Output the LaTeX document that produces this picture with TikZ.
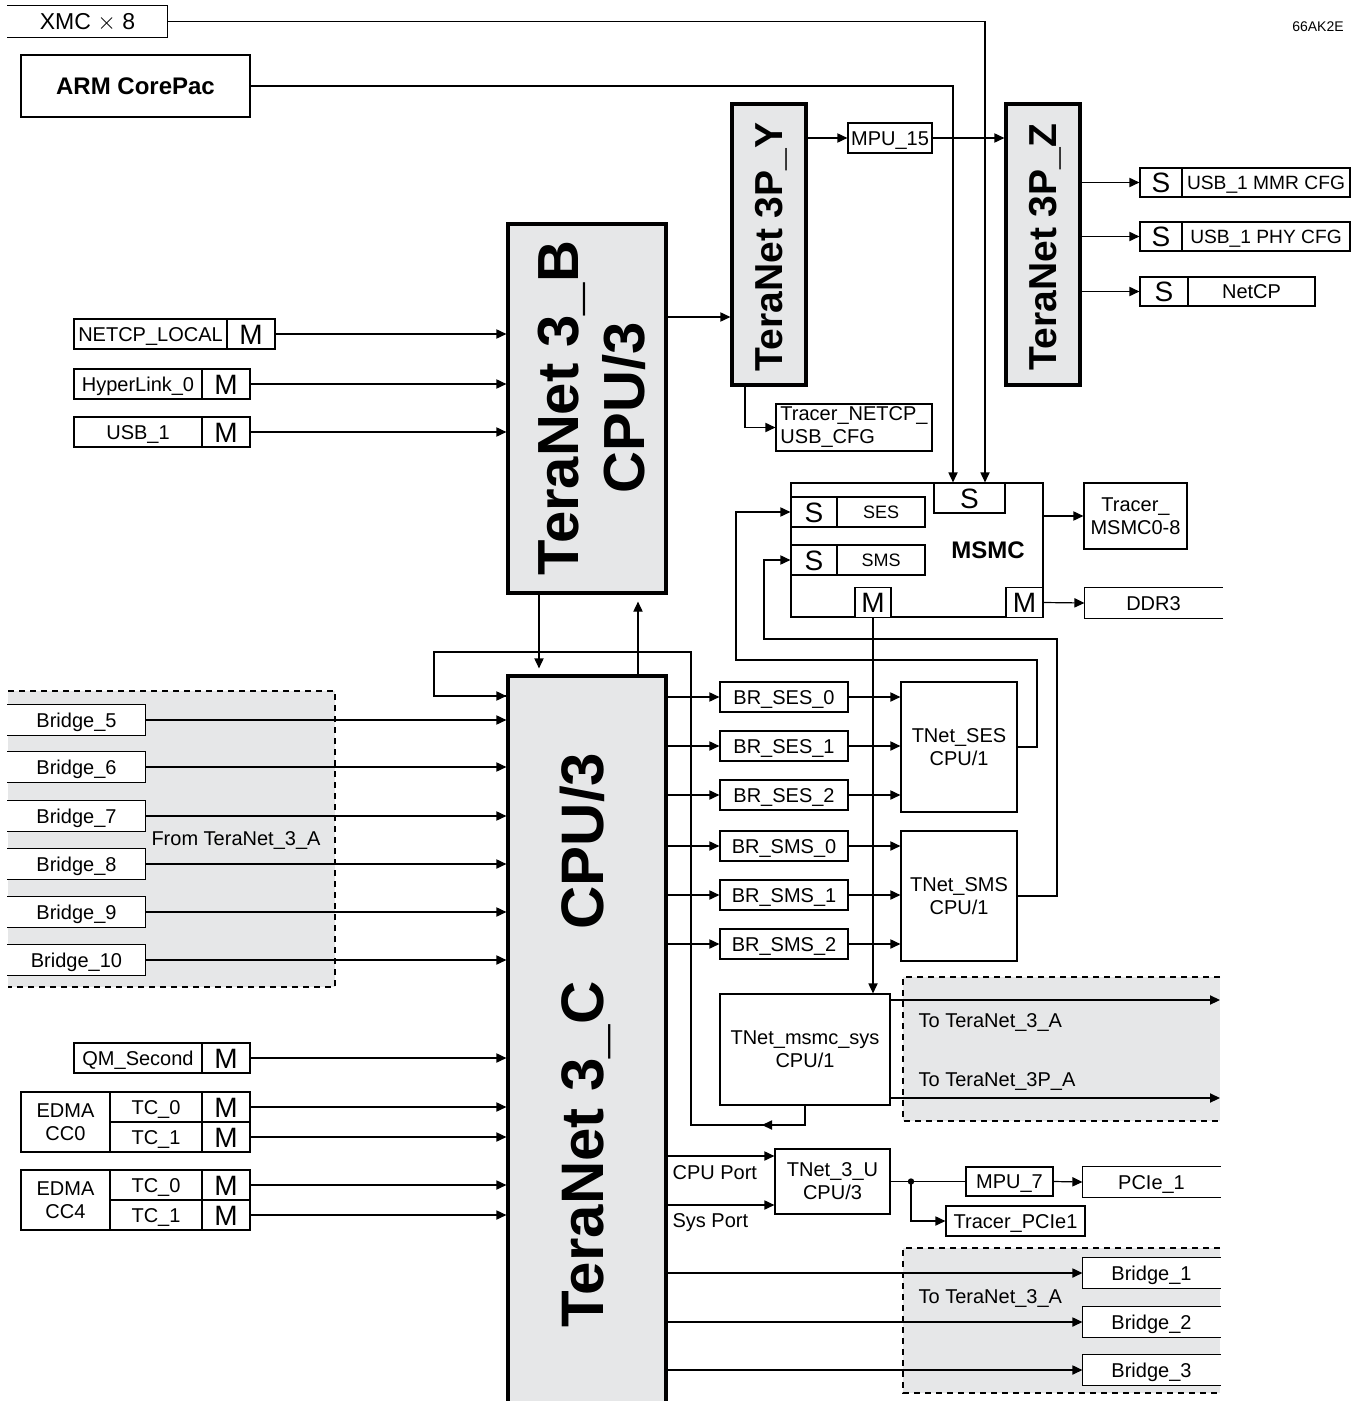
\documentclass[tikz,border=0pt]{standalone}
\usepackage{fontspec}
\setmainfont{Liberation Sans}
\usetikzlibrary{arrows.meta,positioning}
\definecolor{tngray}{RGB}{230,231,232}
\tikzstyle{arrow} = [-{Triangle[length=5pt,width=4.6pt]}]
\tikzstyle{box2} = [rectangle, draw, fill=white, inner sep=0pt, minimum height=15pt, font=\fontsize{10}{11.5}\selectfont]
\tikzstyle{box} = [box2, text height=7.2pt, text depth=0pt]
\tikzstyle{port} = [box, minimum width=24pt, text height=10pt, font=\fontsize{14}{14}\selectfont]
\tikzstyle{fabric} = [rectangle, draw, line width=1.6pt, fill=tngray]
\tikzstyle{fabrictext} = [rotate=90, align=center, inner sep=0pt, font=\bfseries\fontsize{29}{33}\selectfont]
\tikzstyle{regionedge} = [dash pattern=on 3pt off 2.5pt]
\tikzstyle{note} = [inner sep=0pt, font=\fontsize{10}{11.5}\selectfont]

\begin{document}
\begin{tikzpicture}[x=0.5pt, y=-0.5pt, line width=0.6pt]
\useasboundingbox (0,0) rectangle (1364,1401);

% shaded groups
\fill[tngray] (8,691) rectangle (335,987);
\draw[regionedge] (8,691) -- (335,691) -- (335,987) -- (8,987);
\fill[tngray] (903,977) rectangle (1220,1121);
\draw[regionedge] (1220,977) -- (903,977) -- (903,1121) -- (1220,1121);
\fill[tngray] (903,1248) rectangle (1220,1393);
\draw[regionedge] (1220,1248) -- (903,1248) -- (903,1393) -- (1220,1393);

% top masters
\node[box, draw=none, fill=none, minimum width=79.5pt, minimum height=15.5pt, font=\fontsize{11.5}{13}\selectfont, text height=8.3pt] (xmc) at (87.5,21.5) {XMC $\times$ 8};
\draw (xmc.north west) -- (xmc.north east) -- (xmc.south east) -- (xmc.south west);
\node[box, minimum width=114.5pt, minimum height=31pt, text height=8.6pt, font=\bfseries\fontsize{12}{14}\selectfont] (arm) at (135.5,86) {ARM CorePac};
\node[font=\fontsize{7}{8}\selectfont] (tag) at (1318,27) {66AK2E};

% switch fabrics
\node[fabric, minimum width=79pt, minimum height=184.5pt] (tnb) at (587,408.5) {};
\node[fabrictext] (tnbtext) at (592,408) {TeraNet 3\_B\\CPU/3};
\node[fabric, minimum width=37pt, minimum height=140.5pt] (tny) at (769,244.5) {};
\node[fabrictext, font=\bfseries\fontsize{19.5}{22}\selectfont] (tnytext) at (771,247) {TeraNet 3P\_Y};
\node[fabric, minimum width=37pt, minimum height=140.5pt] (tnz) at (1043,244.5) {};
\node[fabrictext, font=\bfseries\fontsize{19.5}{22}\selectfont] (tnztext) at (1045,247) {TeraNet 3P\_Z};
\node[fabric, minimum width=79pt, minimum height=367pt] (tnc) at (587,1043) {};
\node[fabrictext, font=\bfseries\fontsize{30}{33}\selectfont] (tnctext) at (585,1040) {TeraNet 3\_C\hspace{26pt}CPU/3};

% TeraNet 3P_Y / 3P_Z
\node[box, minimum width=42pt] (mpu15) at (890,138) {MPU\_15};
\node[box2, minimum width=78pt, minimum height=23.5pt, align=left] (trnetcp) at (854,427.5) {Tracer\_NETCP\_\\USB\_CFG};
\draw[arrow] (tnb.east |- 0,317) -- (tny.west |- 0,317);
\draw[arrow] (tny.east |- mpu15.west) -- (mpu15.west);
\draw[arrow] (mpu15.east) -- (mpu15.east -| tnz.west);
\draw[arrow] ([xshift=-12pt]tny.south) |- (trnetcp.west);

\node[port, minimum width=21pt, minimum height=14.5pt] (mmrS) at (1161,182.5) {S};
\node[box, minimum width=84pt, minimum height=14.5pt, font=\fontsize{9.6}{11}\selectfont] (mmr) at (1266,182.5) {USB\_1 MMR CFG};
\node[port, minimum width=21pt, minimum height=14.5pt] (phyS) at (1161,236.5) {S};
\node[box, minimum width=84pt, minimum height=14.5pt, font=\fontsize{9.6}{11}\selectfont] (phy) at (1266,236.5) {USB\_1 PHY CFG};
\node[port, minimum width=24pt, minimum height=14.5pt] (netcpS) at (1164,291.5) {S};
\node[box, minimum width=63.5pt, minimum height=14.5pt] (netcp) at (1251.5,291.5) {NetCP};
\foreach \s in {mmrS, phyS, netcpS}
  \draw[arrow] (tnz.east |- \s.west) -- (\s.west);

% MSMC
\node[box2, minimum width=126pt, minimum height=67pt] (msmc) at (917,550) {};
\node[font=\bfseries\fontsize{12}{14}\selectfont, text height=8.6pt, text depth=0pt] (msmctext) at (988,550) {MSMC};
\node[port, minimum width=35.5pt] (stop) at (969.5,498) {S};
\node[port, minimum width=23pt] (sesS) at (814,512) {S};
\node[box, minimum width=44pt, text height=6.5pt, font=\fontsize{9}{10}\selectfont] (ses) at (881,512) {SES};
\node[port, minimum width=23pt] (smsS) at (814,560) {S};
\node[box, minimum width=44pt, text height=6.5pt, font=\fontsize{9}{10}\selectfont] (sms) at (881,560) {SMS};
\node[port, minimum width=18pt] (mbot) at (873,602.5) {M};
\node[port, minimum width=18.5pt] (mright) at (1024.5,602.5) {M};
\node[box2, minimum width=51.5pt, minimum height=33pt, align=center] (trmsmc) at (1135.5,516) {Tracer\_\\MSMC0-8};
\node[box, draw=none, minimum width=68.5pt] (ddr) at (1153.5,603) {DDR3};
\draw (ddr.north east) -- (ddr.north west) -- (ddr.south west) -- (ddr.south east);
\draw[arrow] (xmc.east) -| ([xshift=7.75pt]stop.north);
\draw[arrow] (arm.east) -| ([xshift=-8.25pt]stop.north);
\draw[arrow] (msmc.east |- trmsmc.west) -- (trmsmc.west);
\draw[arrow] (mright.east) -- (ddr.west);

% masters into TeraNet 3_B
\node[box, minimum width=76.5pt] (netlocal) at (150.5,334) {NETCP\_LOCAL};
\node[port] (netlocalM) at (251,334) {M};
\draw[arrow] (netlocalM.east) -- (netlocalM.east -| tnb.west);
\foreach \name/\txt/\y in {hyper/HyperLink\_0/384, usb/USB\_1/432, qm/QM\_Second/1058} {
  \node[box, minimum width=64pt] (\name) at (138,\y) {\txt};
  \node[port] (\name M) at (226,\y) {M};
}
\draw[arrow] (hyperM.east) -- (hyperM.east -| tnb.west);
\draw[arrow] (usbM.east) -- (usbM.east -| tnb.west);
\draw[arrow] (qmM.east) -- (qmM.east -| tnc.west);

% TeraNet 3_B <-> TeraNet 3_C
\draw[arrow] ([xshift=-24pt]tnb.south) -- ([xshift=-24pt,yshift=3pt]tnc.north);
\draw[arrow] ([xshift=25.5pt]tnc.north) -- ([xshift=25.5pt,yshift=-3.5pt]tnb.south);

% bridges from TeraNet_3_A
\foreach \n/\y in {5/720, 6/767, 7/816, 8/864, 9/912, 10/960} {
  \node[box, draw=none, minimum width=68.5pt] (bridge\n) at (76.5,\y) {Bridge\_\n};
  \draw (bridge\n.north west) -- (bridge\n.north east) -- (bridge\n.south east) -- (bridge\n.south west);
  \draw[arrow] (bridge\n.east) -- (bridge\n.east -| tnc.west);
}
\node[note] (fromA) at (236,840) {From TeraNet\_3\_A};

% EDMA
\foreach \cc/\y in {0/1122, 4/1200} {
  \node[box2, minimum width=44.5pt, minimum height=30pt, align=center] (edma\cc) at (65.5,\y) {EDMA\\CC\cc};
  \node[box, minimum width=46pt] (tca\cc) at (156,\y-15) {TC\_0};
  \node[box, minimum width=46pt] (tcb\cc) at (156,\y+15) {TC\_1};
  \node[port] (tcaM\cc) at (226,\y-15) {M};
  \node[port] (tcbM\cc) at (226,\y+15) {M};
  \draw[arrow] (tcaM\cc.east) -- (tcaM\cc.east -| tnc.west);
  \draw[arrow] (tcbM\cc.east) -- (tcbM\cc.east -| tnc.west);
}

% bridges to SES / SMS
\node[box2, minimum width=58pt, minimum height=65pt, align=center] (tnses) at (959,747) {TNet\_SES\\CPU/1};
\node[box2, minimum width=58pt, minimum height=65pt, align=center] (tnsms) at (959,896) {TNet\_SMS\\CPU/1};
\foreach \name/\txt/\y/\tgt in {bses0/BR\_SES\_0/697/tnses, bses1/BR\_SES\_1/746/tnses, bses2/BR\_SES\_2/795/tnses,
    bsms0/BR\_SMS\_0/846/tnsms, bsms1/BR\_SMS\_1/895/tnsms, bsms2/BR\_SMS\_2/944/tnsms} {
  \node[box, minimum width=64pt] (\name) at (784,\y) {\txt};
  \draw[arrow] (tnc.east |- \name.west) -- (\name.west);
  \draw[arrow] (\name.east) -- (\name.east -| \tgt.west);
}
\draw[arrow] (tnses.east) -| (1037,660) -| (736,512) -- (sesS.west);
\draw[arrow] (tnsms.east) -| (1057,639) -| (764,560) -- (smsS.west);

% MSMC system port
\node[box2, minimum width=85pt, minimum height=55.5pt, align=center] (sys) at (805,1049.5) {TNet\_msmc\_sys\\CPU/1};
\draw[arrow] (mbot.south) -- (mbot.south |- sys.north);
\coordinate (toA) at (1220,1000);
\coordinate (toPA) at (1220,1098);
\draw[arrow] (sys.east |- toA) -- (toA);
\draw[arrow] (sys.east |- toPA) -- (toPA);
\node[note, anchor=west] (toAtext) at (918,1022) {To TeraNet\_3\_A};
\node[note, anchor=west] (toPAtext) at (918,1081) {To TeraNet\_3P\_A};
\coordinate (loopmid) at (762,1125);
\draw (sys.south) |- (691,1125) |- (434,652) |- (tnc.west |- 0,696);
\draw[arrow] (434,696) -- (tnc.west |- 0,696);
\draw[arrow] (sys.south |- loopmid) -- (loopmid);

% PCIe
\node[box2, minimum width=57.5pt, minimum height=32.5pt, align=center] (tnu) at (832.5,1181.5) {TNet\_3\_U\\CPU/3};
\draw[arrow] (tnc.east |- 0,1156) -- (tnu.west |- 0,1156);
\draw[arrow] (tnc.east |- 0,1205) -- (tnu.west |- 0,1205);
\node[note, anchor=west] (cpuport) at (672,1173) {CPU Port};
\node[note, anchor=west] (sysport) at (672,1223) {Sys Port};
\node[box, minimum width=43.5pt, minimum height=14.5pt] (mpu7) at (1009.5,1181.5) {MPU\_7};
\node[box, draw=none, minimum width=68.5pt] (pcie) at (1151.5,1182) {PCIe\_1};
\draw (pcie.north east) -- (pcie.north west) -- (pcie.south west) -- (pcie.south east);
\node[box, minimum width=69.5pt] (trpcie) at (1015.5,1221) {Tracer\_PCIe1};
\coordinate (split) at (911,1181.5);
\draw (tnu.east |- mpu7.west) -- (mpu7.west);
\fill (split) circle (1.6pt);
\draw[arrow] (split) |- (trpcie.west);
\draw[arrow] (mpu7.east) -- (pcie.west);

% bridges to TeraNet_3_A
\foreach \n/\y in {1/1273, 2/1322, 3/1370} {
  \node[box, draw=none, minimum width=68.5pt] (br\n) at (1151.5,\y) {Bridge\_\n};
  \draw (br\n.north east) -- (br\n.north west) -- (br\n.south west) -- (br\n.south east);
  \draw[arrow] (tnc.east |- br\n.west) -- (br\n.west);
}
\node[note, anchor=west] (toAtext2) at (918,1298) {To TeraNet\_3\_A};
\end{tikzpicture}
\end{document}
